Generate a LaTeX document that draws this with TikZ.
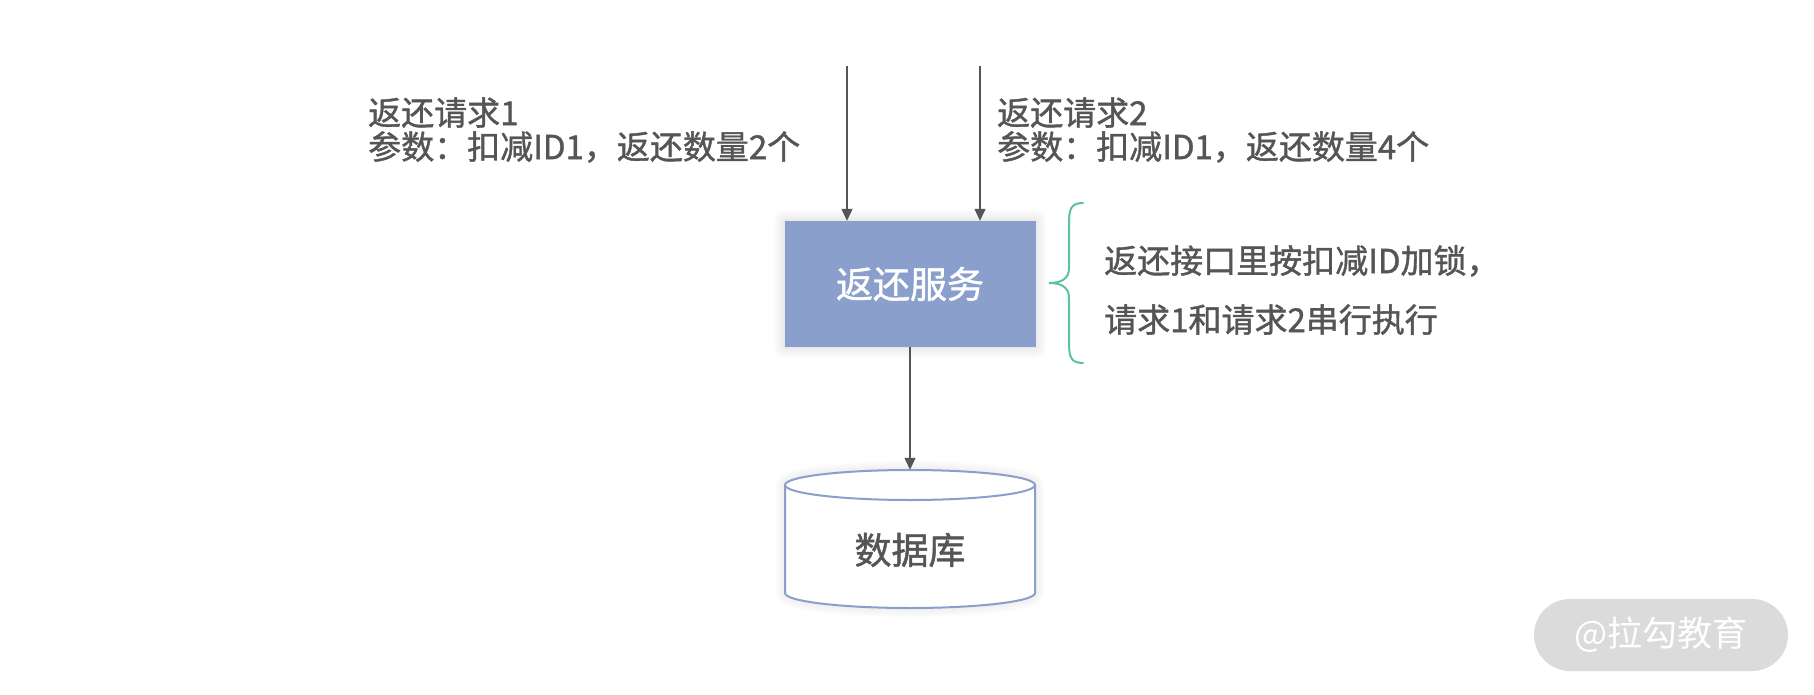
\documentclass[tikz,border=0pt]{standalone}
\usepackage{fontspec}
\newfontfamily\cjk[FakeBold=1.2]{Noto Sans CJK SC}
\newfontfamily\cjkthin{Noto Sans CJK SC}
\usetikzlibrary{arrows.meta,shadows.blur}
\definecolor{txt}{HTML}{555555}
\definecolor{arrc}{HTML}{555555}
\definecolor{boxc}{HTML}{8A9FCB}
\definecolor{bracec}{HTML}{5EC29B}
\definecolor{dbline}{HTML}{8A9FCB}
\definecolor{wmc}{HTML}{DBDBDB}
\begin{document}
\begin{tikzpicture}[x=1pt,y=1pt,
  arr/.style={draw=arrc,line width=1.3pt,-{Triangle[length=12pt,width=11pt]}},
  lbl/.style={font=\cjk\fontsize{33}{36}\selectfont,text=txt,align=left,inner sep=0pt},
  svcbox/.style={fill=boxc,minimum width=251pt,minimum height=126pt,inner sep=0pt,
    text=white,font=\cjk\fontsize{37}{40}\selectfont,
    blur shadow={shadow xshift=0pt,shadow yshift=0pt,shadow blur radius=12pt,shadow opacity=18,shadow blur steps=12}},
  dbshape/.style={minimum width=250pt,minimum height=138pt,inner sep=0pt},
  dbtext/.style={text=txt,font=\cjk\fontsize{37}{40}\selectfont,inner sep=0pt},
  wm/.style={fill=wmc,rounded corners=36pt,minimum width=254pt,minimum height=72pt,inner sep=0pt,
    text=white,font=\cjkthin\fontsize{35}{40}\selectfont}]
\useasboundingbox (0,0) rectangle (1814,-695);
% service box
\node[svcbox] (svc) at (910,-284) {返还服务};
% incoming arrow starts
\coordinate (in1) at (847,-66);
\coordinate (in2) at (980,-66);
\draw[arr] (in1) -- (in1 |- svc.north);
\draw[arr] (in2) -- (in2 |- svc.north);
% labels
\node[lbl,anchor=west] (l1) at (368,-130) {返还请求1\\[-2pt]参数：扣减ID1，返还数量2个};
\node[lbl,anchor=west] (l2) at (997,-130) {返还请求2\\[-2pt]参数：扣减ID1，返还数量4个};
% database
\node[dbshape] (db) at (910,-539) {};
\path[fill=white,draw=dbline,line width=2pt,
  blur shadow={shadow xshift=0pt,shadow yshift=0pt,shadow blur radius=10pt,shadow opacity=15,shadow blur steps=10}]
  (785,-485) -- (785,-593) arc[start angle=180,end angle=360,x radius=125pt,y radius=15pt]
  -- (1035,-485) arc[start angle=0,end angle=180,x radius=125pt,y radius=15pt] -- cycle;
\draw[dbline,line width=2pt] (785,-485) arc[start angle=180,end angle=360,x radius=125pt,y radius=15pt];
\node[dbtext] (dbt) at (910,-550) {数据库};
\draw[arr] (svc.south) -- (db.north);
% brace
\draw[bracec,line width=2pt,line cap=round]
  (1083,-203) .. controls (1070,-203) and (1069,-210) .. (1069,-225) -- (1069,-268)
  .. controls (1069,-279) and (1061,-283) .. (1049,-283)
  .. controls (1061,-283) and (1069,-287) .. (1069,-298) -- (1069,-341)
  .. controls (1069,-356) and (1070,-363) .. (1083,-363);
\node[lbl,anchor=west,align=left] (note) at (1104,-290) {返还接口里按扣减ID加锁，\\[23pt]请求1和请求2串行执行};
% watermark
\node[wm] (wmk) at (1661,-635) {@拉勾教育};
\end{tikzpicture}
\end{document}
